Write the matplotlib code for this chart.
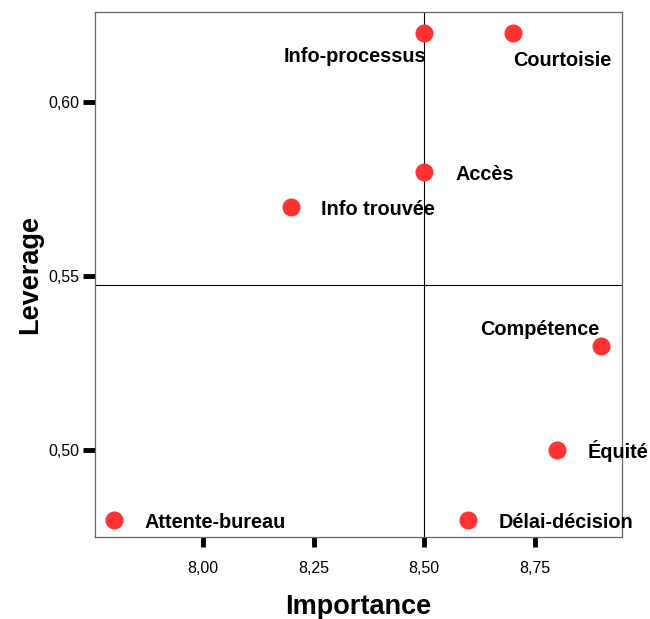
import matplotlib
matplotlib.use('Agg')
import matplotlib.pyplot as plt
from matplotlib.ticker import FuncFormatter

plt.rcParams['font.family'] = ['Liberation Sans', 'DejaVu Sans']

# données
noms = ['Info-processus', 'Courtoisie', 'Accès', 'Info trouvée',
        'Compétence', 'Équité', 'Attente-bureau', 'Délai-décision']
importance = [8.50, 8.70, 8.50, 8.20, 8.90, 8.80, 7.80, 8.60]
leverage = [0.62, 0.62, 0.58, 0.57, 0.53, 0.50, 0.48, 0.48]
xticks = [8.00, 8.25, 8.50, 8.75]
yticks = [0.50, 0.55, 0.60]

# position des étiquettes (décalage en pixels, alignement)
decal = {
    'Info-processus': (2, -24, 'right'),
    'Courtoisie': (0, -28, 'left'),
    'Accès': (31, -3, 'left'),
    'Info trouvée': (30, -3, 'left'),
    'Compétence': (-2, 16, 'right'),
    'Équité': (31, -1, 'left'),
    'Attente-bureau': (30, -3, 'left'),
    'Délai-décision': (30, -3, 'left'),
}

fig = plt.figure(figsize=(6.5, 6.19), dpi=100)
ax = fig.add_axes([0.146, 0.1325, 0.811, 0.848])

moy_x = sum(importance) / len(importance)
moy_y = sum(leverage) / len(leverage)
ax.axvline(moy_x, color='black', lw=0.8, zorder=1)
ax.axhline(moy_y, color='black', lw=0.8, zorder=1)

ax.plot(importance, leverage, 'o', color='#ff3333', markersize=13,
        markeredgewidth=0, zorder=3, linestyle='none')

for n, x, y in zip(noms, importance, leverage):
    dx, dy, ha = decal[n]
    ax.annotate(n, (x, y), xytext=(dx, dy), textcoords='offset pixels',
                ha=ha, va='center', fontsize=14.3, fontweight='bold', zorder=4)

ax.set_xlim(7.756, 8.947)
ax.set_ylim(0.475, 0.6259)
ax.set_xticks(xticks)
ax.set_yticks(yticks)
fmt = FuncFormatter(lambda v, p: ('%.2f' % v).replace('.', ','))
ax.xaxis.set_major_formatter(fmt)
ax.yaxis.set_major_formatter(fmt)
ax.tick_params(axis='x', length=7, width=3.5, labelsize=11.5, pad=10)
ax.tick_params(axis='y', length=9, width=3.5, labelsize=11.5, pad=2)

for s in ax.spines.values():
    s.set_color('#666666')
    s.set_linewidth(0.9)

ax.set_xlabel('Importance', fontsize=19.5, fontweight='bold', labelpad=13)
ax.set_ylabel('Leverage', fontsize=19.5, fontweight='bold', labelpad=4)

plt.savefig('out.png', dpi=100)
